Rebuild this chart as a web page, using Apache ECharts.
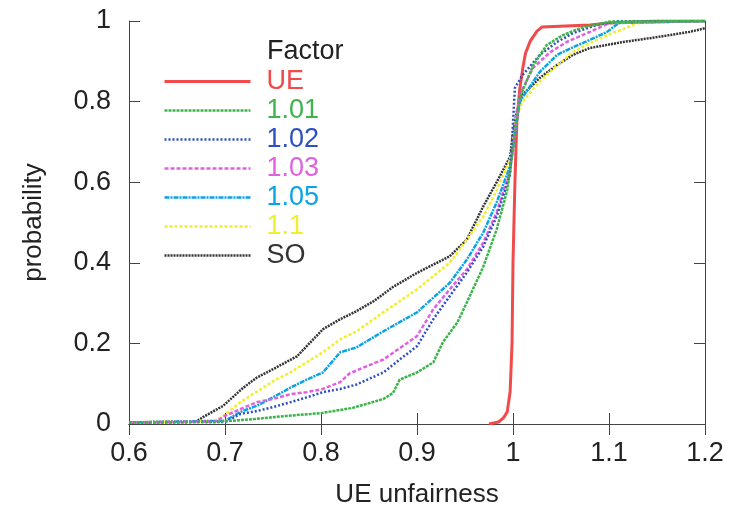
<!DOCTYPE html>
<html><head><meta charset="utf-8">
<script src="https://cdn.jsdelivr.net/npm/echarts@6/dist/echarts.min.js"></script>
<style>html,body{margin:0;padding:0;background:#fff}#c{width:729px;height:513px}</style>
</head><body><div id="c"></div>
<script>
const seriesNames = ['UE','1.01','1.02','1.03','1.05','1.1','SO'];
const xTicks = [0.6,0.7,0.8,0.9,1,1.1,1.2];
const yTicks = [0,0.2,0.4,0.6,0.8,1];

const ueData = [[0.975,0],[0.985,0.005],[0.99,0.015],[0.994,0.03],[0.997,0.08],[0.999,0.2],[1.0,0.4],[1.002,0.6],[1.004,0.75],[1.007,0.83],[1.01,0.88],[1.013,0.92],[1.018,0.95],[1.025,0.975],[1.03,0.985],[1.08,0.99],[1.1,0.995],[1.15,1],[1.2,1]];
const f101 = [[0.6,0.004],[0.69,0.005],[0.729,0.012],[0.764,0.02],[0.8,0.027],[0.833,0.04],[0.865,0.062],[0.875,0.077],[0.882,0.11],[0.9,0.128],[0.917,0.153],[0.927,0.203],[0.942,0.252],[0.952,0.302],[0.969,0.39],[0.983,0.483],[0.994,0.58],[1.0,0.68],[1.007,0.81],[1.021,0.89],[1.035,0.94],[1.052,0.965],[1.07,0.982],[1.1,0.998],[1.2,1]];
const f102 = [[0.6,0.004],[0.7,0.005],[0.716,0.025],[0.733,0.032],[0.75,0.042],[0.768,0.054],[0.785,0.066],[0.802,0.079],[0.82,0.087],[0.837,0.098],[0.865,0.128],[0.882,0.16],[0.9,0.193],[0.917,0.26],[0.934,0.317],[0.952,0.376],[0.969,0.44],[0.983,0.515],[0.997,0.62],[1.002,0.834],[1.01,0.866],[1.028,0.916],[1.046,0.948],[1.0625,0.97],[1.087,0.99],[1.11,1],[1.2,1]];
const f103 = [[0.6,0.004],[0.69,0.006],[0.7,0.02],[0.716,0.037],[0.733,0.054],[0.75,0.062],[0.768,0.074],[0.785,0.079],[0.802,0.087],[0.82,0.104],[0.83,0.126],[0.865,0.16],[0.9,0.218],[0.917,0.285],[0.934,0.334],[0.952,0.384],[0.969,0.45],[0.983,0.525],[0.997,0.63],[1.007,0.817],[1.021,0.884],[1.039,0.923],[1.056,0.948],[1.08,0.973],[1.1,0.995],[1.2,1]];
const f105 = [[0.6,0.004],[0.7,0.008],[0.716,0.03],[0.733,0.045],[0.75,0.066],[0.768,0.09],[0.785,0.11],[0.802,0.128],[0.82,0.178],[0.837,0.19],[0.865,0.23],[0.9,0.277],[0.934,0.35],[0.952,0.408],[0.969,0.475],[0.983,0.55],[0.997,0.64],[1.007,0.8],[1.028,0.874],[1.046,0.916],[1.0625,0.935],[1.08,0.953],[1.098,0.973],[1.11,0.995],[1.2,1]];
const f110 = [[0.6,0.004],[0.69,0.008],[0.698,0.02],[0.716,0.054],[0.75,0.106],[0.768,0.128],[0.785,0.153],[0.802,0.178],[0.82,0.21],[0.837,0.23],[0.865,0.277],[0.9,0.334],[0.934,0.4],[0.952,0.458],[0.969,0.515],[0.983,0.58],[0.997,0.656],[1.004,0.767],[1.01,0.8],[1.028,0.85],[1.046,0.89],[1.0625,0.923],[1.08,0.945],[1.098,0.965],[1.115,0.98],[1.13,0.995],[1.2,1]];
const soData = [[0.6,0.004],[0.67,0.006],[0.677,0.017],[0.698,0.045],[0.719,0.09],[0.733,0.115],[0.75,0.136],[0.775,0.168],[0.802,0.235],[0.82,0.26],[0.837,0.28],[0.855,0.305],[0.875,0.34],[0.9,0.375],[0.934,0.416],[0.952,0.458],[0.969,0.54],[0.983,0.6],[0.997,0.663],[1.0,0.72],[1.004,0.775],[1.01,0.817],[1.028,0.859],[1.046,0.891],[1.0625,0.916],[1.08,0.933],[1.115,0.948],[1.15,0.96],[1.184,0.973],[1.2,0.982]];

const allData = [ueData,f101,f102,f103,f105,f110,soData];
const colors = ['#f04a4a','#3db44b','#2c4fc2','#e060e0','#0aa3e6','#f2ee2a','#333333'];
const dashes = ['solid',[3,1],[2,2],[4,2],[5,1,2,1],[3,2],[2,1]];
const widths = [3,2.5,2.5,2.5,2.5,2.5,2.5];

const FONT = 'Liberation Sans, Arial, Helvetica, sans-serif';
const chart = echarts.init(document.getElementById('c'), null, {renderer:'canvas'});

const series = seriesNames.map((n,i)=>({
  name:n, type:'line', data:allData[i], symbol:'none', showSymbol:false,
  lineStyle:{color:colors[i], width:widths[i], type:dashes[i]},
  itemStyle:{color:colors[i]}, z: i===0?5:(10-i), animation:false
}));

const axisBase = {
  axisLine:{show:true, lineStyle:{color:'#444', width:1}},
  axisTick:{show:true, inside:true, length:11, lineStyle:{color:'#444'}},
  splitLine:{show:false}
};

chart.setOption({
  animation:false,
  backgroundColor:'#fff',
  title:{text:'Factor', left:262, top:33, textStyle:{fontFamily:FONT, fontSize:27, fontWeight:'normal', color:'#222'}},
  legend:{
    orient:'vertical', left:158, top:62, itemWidth:86, itemHeight:14, itemGap:0,
    data: seriesNames.map((n,i)=>({name:n, textStyle:{color:colors[i]},
      lineStyle:{width:widths[i], color:colors[i], type:dashes[i]}})),
    itemStyle:{color:'rgba(0,0,0,0)', borderWidth:0, opacity:0},
    textStyle:{fontFamily:FONT, fontSize:27, lineHeight:29, padding:[0,0,0,11]},
    selectedMode:false
  },
  grid:{left:129, width:576, top:21, height:404, containLabel:false},
  xAxis:[
    Object.assign({type:'value', min:0.6, max:1.2, interval:0.1, position:'bottom',
      name:'UE unfairness', nameLocation:'middle', nameGap:58,
      nameTextStyle:{fontFamily:FONT, fontSize:26, color:'#222'},
      axisLabel:{fontFamily:FONT, fontSize:27, color:'#222', margin:16,
        formatter:v=>String(Math.round(v*10)/10)}}, axisBase),
    Object.assign({type:'value', min:0.6, max:1.2, interval:0.1, position:'top', axisLabel:{show:false}}, axisBase)
  ],
  yAxis:[
    Object.assign({type:'value', min:0, max:1, interval:0.2, position:'left',
      name:'probability', nameLocation:'middle', nameGap:82,
      nameTextStyle:{fontFamily:FONT, fontSize:26, color:'#222'},
      axisLabel:{fontFamily:FONT, fontSize:27, color:'#222', margin:18,
        formatter:v=>String(Math.round(v*10)/10)}}, axisBase),
    Object.assign({type:'value', min:0, max:1, interval:0.2, position:'right', axisLabel:{show:false}}, axisBase)
  ],
  series: series
});
</script></body></html>
